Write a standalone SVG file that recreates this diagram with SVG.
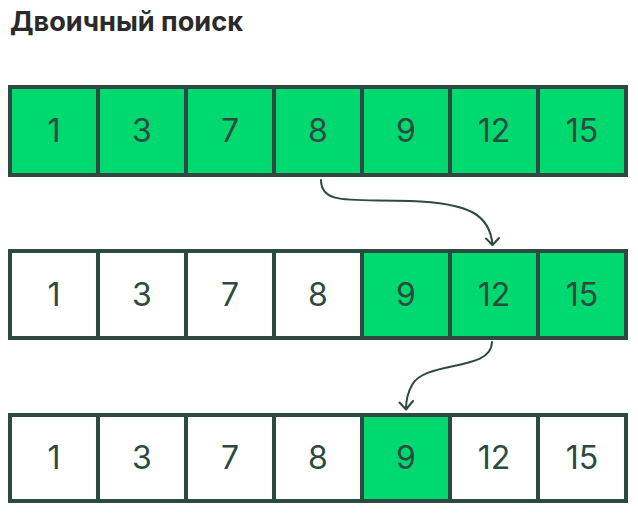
<svg xmlns="http://www.w3.org/2000/svg" width="638" height="517" viewBox="0 0 638 517">
<style>
.t{font-family:Inter,"Liberation Sans",sans-serif;font-weight:700;font-size:27px;fill:#2a2a2a}
.n{font-family:Inter,"Liberation Sans",sans-serif;font-size:32px;fill:#2d4a40;text-anchor:middle}
.g{fill:#00d870;stroke:#2d4a40;stroke-width:4}
.w{fill:#ffffff;stroke:#2d4a40;stroke-width:4}
.c{fill:none;stroke:#2d4a40;stroke-width:2;stroke-linecap:round;stroke-linejoin:round}
</style>
<rect width="638" height="517" fill="#ffffff"/>
<text class="t" x="10" y="31" textLength="233" lengthAdjust="spacingAndGlyphs">Двоичный поиск</text>
<g id="row1">
<g id="r1c1"><rect class="g" x="10" y="87" width="88" height="88"/><text class="n" x="54" y="142">1</text></g>
<g id="r1c2"><rect class="g" x="98" y="87" width="88" height="88"/><text class="n" x="142" y="142">3</text></g>
<g id="r1c3"><rect class="g" x="186" y="87" width="88" height="88"/><text class="n" x="230" y="142">7</text></g>
<g id="r1c4"><rect class="g" x="274" y="87" width="88" height="88"/><text class="n" x="318" y="142">8</text></g>
<g id="r1c5"><rect class="g" x="362" y="87" width="88" height="88"/><text class="n" x="406" y="142">9</text></g>
<g id="r1c6"><rect class="g" x="450" y="87" width="88" height="88"/><text class="n" x="494" y="142">12</text></g>
<g id="r1c7"><rect class="g" x="538" y="87" width="88" height="88"/><text class="n" x="582" y="142">15</text></g>
</g>
<g id="row2">
<g id="r2c1"><rect class="w" x="10" y="251" width="88" height="87"/><text class="n" x="54" y="306">1</text></g>
<g id="r2c2"><rect class="w" x="98" y="251" width="88" height="87"/><text class="n" x="142" y="306">3</text></g>
<g id="r2c3"><rect class="w" x="186" y="251" width="88" height="87"/><text class="n" x="230" y="306">7</text></g>
<g id="r2c4"><rect class="w" x="274" y="251" width="88" height="87"/><text class="n" x="318" y="306">8</text></g>
<g id="r2c5"><rect class="g" x="362" y="251" width="88" height="87"/><text class="n" x="406" y="306">9</text></g>
<g id="r2c6"><rect class="g" x="450" y="251" width="88" height="87"/><text class="n" x="494" y="306">12</text></g>
<g id="r2c7"><rect class="g" x="538" y="251" width="88" height="87"/><text class="n" x="582" y="306">15</text></g>
</g>
<g id="row3">
<g id="r3c1"><rect class="w" x="10" y="415" width="88" height="86"/><text class="n" x="54" y="469">1</text></g>
<g id="r3c2"><rect class="w" x="98" y="415" width="88" height="86"/><text class="n" x="142" y="469">3</text></g>
<g id="r3c3"><rect class="w" x="186" y="415" width="88" height="86"/><text class="n" x="230" y="469">7</text></g>
<g id="r3c4"><rect class="w" x="274" y="415" width="88" height="86"/><text class="n" x="318" y="469">8</text></g>
<g id="r3c5"><rect class="g" x="362" y="415" width="88" height="86"/><text class="n" x="406" y="469">9</text></g>
<g id="r3c6"><rect class="w" x="450" y="415" width="88" height="86"/><text class="n" x="494" y="469">12</text></g>
<g id="r3c7"><rect class="w" x="538" y="415" width="88" height="86"/><text class="n" x="582" y="469">15</text></g>
</g>
<g id="connectors">
<path class="c" d="M321 180 C321 205 350 199 410 201 C470 203 490 215 492.5 245"/>
<path class="c" d="M486 238.5 L492.5 245 L499 238"/>
<path class="c" d="M492 342 C492 372 425 360 412 385 C407 394 406 400 406 409"/>
<path class="c" d="M399.5 402.5 L406 409.5 L413 401"/>
</g>
</svg>
